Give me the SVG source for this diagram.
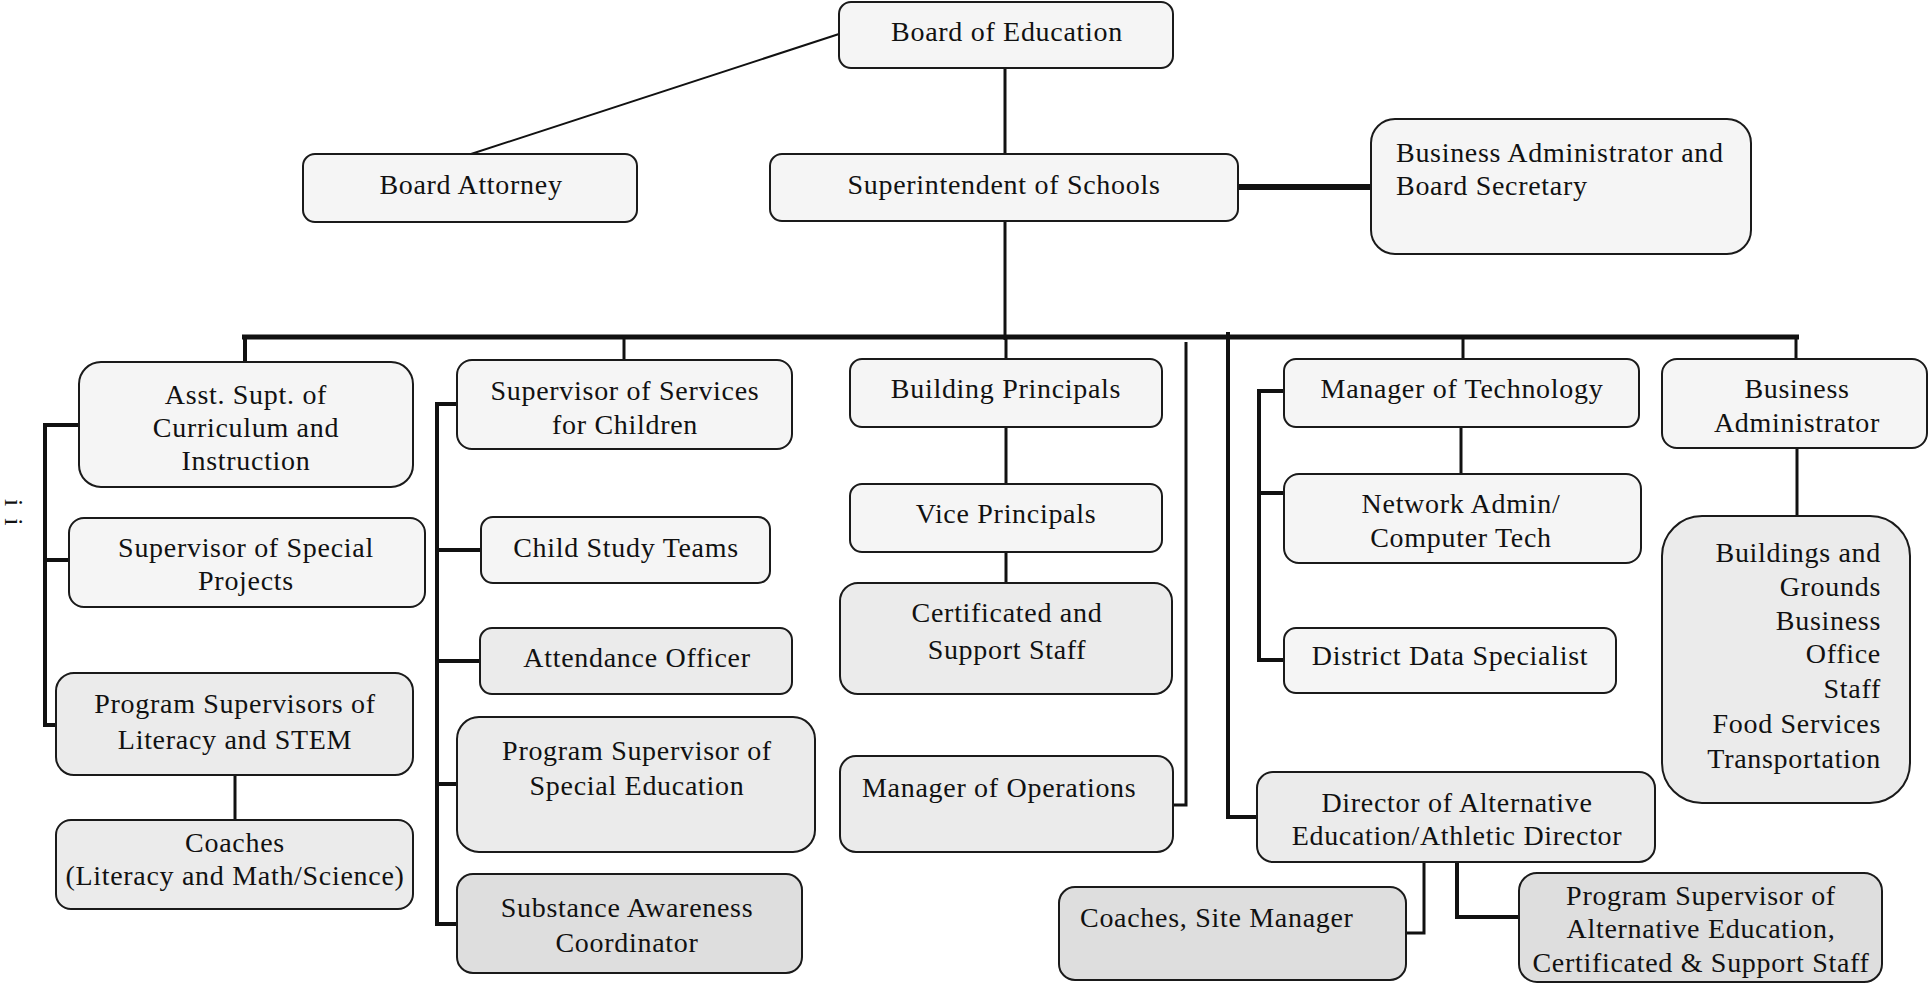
<svg xmlns="http://www.w3.org/2000/svg" width="1930" height="985" viewBox="0 0 1930 985">
<style>
.box{stroke:#1a1a1a;stroke-width:2}
.f1{fill:#f5f5f5}
.f2{fill:#ebebeb}
.f3{fill:#dedede}
.t{font-family:"Liberation Serif","Times New Roman",serif;font-size:28px;letter-spacing:0.7px;fill:#111}
.m{text-anchor:middle}
.e{text-anchor:end}
.c{fill:none;stroke:#111;stroke-linecap:butt;stroke-linejoin:miter}
.w2{stroke-width:2}
.w3{stroke-width:3}
.w4{stroke-width:4}
.w5{stroke-width:5}
.w6{stroke-width:6}
</style>
<rect width="1930" height="985" fill="#ffffff"/>
<g id="connectors">
<line class="c w2" x1="839" y1="34" x2="471" y2="154"/>
<line class="c w3" x1="1005" y1="68" x2="1005" y2="154"/>
<line class="c w3" x1="1005" y1="221" x2="1005" y2="340"/>
<line class="c w6" x1="1238" y1="187" x2="1371" y2="187"/>
<line class="c w5" x1="242" y1="337" x2="1799" y2="337"/>
<line class="c w4" x1="245" y1="337" x2="245" y2="362"/>
<line class="c w3" x1="624" y1="337" x2="624" y2="360"/>
<line class="c w3" x1="1006" y1="337" x2="1006" y2="359"/>
<line class="c w3" x1="1463" y1="337" x2="1463" y2="359"/>
<line class="c w3" x1="1796" y1="337" x2="1796" y2="359"/>
<polyline class="c w4" points="79,425 45,425 45,725 56,725"/>
<line class="c w4" x1="45" y1="560" x2="69" y2="560"/>
<line class="c w3" x1="235" y1="775" x2="235" y2="820"/>
<polyline class="c w4" points="457,404 437,404 437,924 457,924"/>
<line class="c w4" x1="437" y1="550" x2="481" y2="550"/>
<line class="c w4" x1="437" y1="661" x2="480" y2="661"/>
<line class="c w4" x1="437" y1="784" x2="457" y2="784"/>
<line class="c w3" x1="1006" y1="427" x2="1006" y2="484"/>
<line class="c w3" x1="1006" y1="552" x2="1006" y2="583"/>
<polyline class="c w3" points="1186,342 1186,805 1173,805"/>
<polyline class="c w4" points="1228,332 1228,817 1257,817"/>
<polyline class="c w4" points="1284,391 1259,391 1259,660 1284,660"/>
<line class="c w4" x1="1259" y1="493" x2="1284" y2="493"/>
<line class="c w3" x1="1461" y1="427" x2="1461" y2="474"/>
<line class="c w3" x1="1797" y1="448" x2="1797" y2="516"/>
<polyline class="c w3" points="1424,862 1424,933 1406,933"/>
<polyline class="c w4" points="1457,862 1457,917 1519,917"/>
</g>
<g id="board">
<rect class="box f1" x="839" y="2" width="334" height="66" rx="12"/>
<text class="t m" x="1007" y="41">Board of Education</text>
</g>
<g id="attorney">
<rect class="box f1" x="303" y="154" width="334" height="68" rx="12"/>
<text class="t m" x="471" y="194">Board Attorney</text>
</g>
<g id="superintendent">
<rect class="box f1" x="770" y="154" width="468" height="67" rx="12"/>
<text class="t m" x="1004" y="194">Superintendent of Schools</text>
</g>
<g id="business-secretary">
<rect class="box f1" x="1371" y="119" width="380" height="135" rx="24"/>
<text class="t" x="1396" y="162">Business Administrator and<tspan x="1396" y="195">Board Secretary</tspan></text>
</g>
<g id="asst-supt">
<rect class="box f1" x="79" y="362" width="334" height="125" rx="22"/>
<text class="t m" x="246" y="404">Asst. Supt. of<tspan x="246" y="437">Curriculum and</tspan><tspan x="246" y="470">Instruction</tspan></text>
</g>
<g id="special-projects">
<rect class="box f1" x="69" y="518" width="356" height="89" rx="15"/>
<text class="t m" x="246" y="557">Supervisor of Special<tspan x="246" y="590">Projects</tspan></text>
</g>
<g id="literacy-stem">
<rect class="box f2" x="56" y="673" width="357" height="102" rx="18"/>
<text class="t m" x="235" y="713">Program Supervisors of<tspan x="235" y="749">Literacy and STEM</tspan></text>
</g>
<g id="coaches">
<rect class="box f2" x="56" y="820" width="357" height="89" rx="15"/>
<text class="t m" x="235" y="852">Coaches<tspan x="235" y="885">(Literacy and Math/Science)</tspan></text>
</g>
<g id="services-children">
<rect class="box f1" x="457" y="360" width="335" height="89" rx="15"/>
<text class="t m" x="625" y="400">Supervisor of Services<tspan x="625" y="434">for Children</tspan></text>
</g>
<g id="child-study">
<rect class="box f1" x="481" y="517" width="289" height="66" rx="12"/>
<text class="t m" x="626" y="557">Child Study Teams</text>
</g>
<g id="attendance">
<rect class="box f2" x="480" y="628" width="312" height="66" rx="12"/>
<text class="t m" x="637" y="667">Attendance Officer</text>
</g>
<g id="special-education">
<rect class="box f2" x="457" y="717" width="358" height="135" rx="22"/>
<text class="t m" x="637" y="760">Program Supervisor of<tspan x="637" y="795">Special Education</tspan></text>
</g>
<g id="substance">
<rect class="box f3" x="457" y="874" width="345" height="99" rx="16"/>
<text class="t m" x="627" y="917">Substance Awareness<tspan x="627" y="952">Coordinator</tspan></text>
</g>
<g id="building-principals">
<rect class="box f1" x="850" y="359" width="312" height="68" rx="12"/>
<text class="t m" x="1006" y="398">Building Principals</text>
</g>
<g id="vice-principals">
<rect class="box f1" x="850" y="484" width="312" height="68" rx="12"/>
<text class="t m" x="1006" y="523">Vice Principals</text>
</g>
<g id="certificated">
<rect class="box f2" x="840" y="583" width="332" height="111" rx="18"/>
<text class="t m" x="1007" y="622">Certificated and<tspan x="1007" y="659">Support Staff</tspan></text>
</g>
<g id="operations">
<rect class="box f2" x="840" y="756" width="333" height="96" rx="16"/>
<text class="t" x="862" y="797">Manager of Operations</text>
</g>
<g id="technology">
<rect class="box f1" x="1284" y="359" width="355" height="68" rx="12"/>
<text class="t m" x="1462" y="398">Manager of Technology</text>
</g>
<g id="network">
<rect class="box f1" x="1284" y="474" width="357" height="89" rx="15"/>
<text class="t m" x="1461" y="513">Network Admin/<tspan x="1461" y="547">Computer Tech</tspan></text>
</g>
<g id="data-specialist">
<rect class="box f1" x="1284" y="628" width="332" height="65" rx="12"/>
<text class="t m" x="1450" y="665">District Data Specialist</text>
</g>
<g id="business-admin">
<rect class="box f1" x="1662" y="359" width="265" height="89" rx="15"/>
<text class="t m" x="1797" y="398">Business<tspan x="1797" y="432">Administrator</tspan></text>
</g>
<g id="buildings">
<rect class="box f2" x="1662" y="516" width="248" height="287" rx="40"/>
<text class="t e" x="1881" y="562">Buildings and<tspan x="1881" y="596">Grounds</tspan><tspan x="1881" y="630">Business</tspan><tspan x="1881" y="663">Office</tspan><tspan x="1881" y="698">Staff</tspan><tspan x="1881" y="733">Food Services</tspan><tspan x="1881" y="768">Transportation</tspan></text>
</g>
<g id="director-alt-ed">
<rect class="box f2" x="1257" y="772" width="398" height="90" rx="16"/>
<text class="t m" x="1457" y="812">Director of Alternative<tspan x="1457" y="845">Education/Athletic Director</tspan></text>
</g>
<g id="site-manager">
<rect class="box f3" x="1059" y="887" width="347" height="93" rx="16"/>
<text class="t" x="1080" y="927">Coaches, Site Manager</text>
</g>
<g id="alt-ed-supervisor">
<rect class="box f3" x="1519" y="873" width="363" height="109" rx="18"/>
<text class="t m" x="1701" y="905">Program Supervisor of<tspan x="1701" y="938">Alternative Education,</tspan><tspan x="1701" y="972">Certificated &amp; Support Staff</tspan></text>
</g>
<g id="page-number">
<text class="t" style="font-size:26px;letter-spacing:12px" transform="translate(5,499) rotate(90)">ii</text>
</g>
</svg>
